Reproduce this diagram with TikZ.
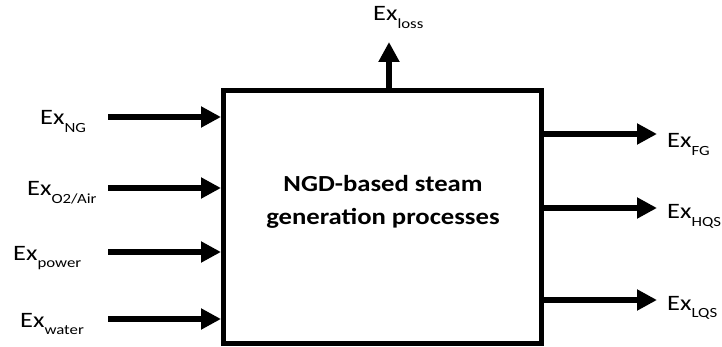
\documentclass[tikz,border=0pt]{standalone}
\usepackage{fontspec}
\setmainfont{Carlito}
\usetikzlibrary{arrows.meta}

\newcommand{\exlabel}[1]{\scalebox{1.2}[1]{Ex\raisebox{-0.36em}{\fontsize{14}{14}\selectfont #1}}}

\tikzset{
  flow/.style={line width=6pt, -{Triangle[length=20pt,width=20pt]}},
  exname/.style={inner sep=0pt, anchor=base west, font=\fontsize{22}{22}\selectfont},
}

\begin{document}
\begin{tikzpicture}[x=1pt, y=-1pt]
    \useasboundingbox (0,0) rectangle (722,347);
    \node[draw, line width=5pt, inner sep=0pt, minimum width=317.5pt, minimum height=252pt] (proc) at (382.25,217) {};
    \node[align=center, font=\fontsize{23}{33}\selectfont\bfseries] (title) at (383,202) {\scalebox{1.16}[1]{NGD-based steam}\\\scalebox{1.16}[1]{generation processes}};

    % inputs
    \coordinate (ng) at (108,117);
    \coordinate (air) at (108,188);
    \coordinate (power) at (108,252);
    \coordinate (water) at (108,319);
    \draw[flow] (ng) -- (ng -| proc.west);
    \draw[flow] (air) -- (air -| proc.west);
    \draw[flow] (power) -- (power -| proc.west);
    \draw[flow] (water) -- (water -| proc.west);
    \node[exname] (ngtxt) at (40,125) {\exlabel{NG}};
    \node[exname] (airtxt) at (27,196) {\exlabel{O2/Air}};
    \node[exname] (powertxt) at (13,260) {\exlabel{power}};
    \node[exname] (watertxt) at (20,327) {\exlabel{water}};

    % outputs
    \coordinate (fg) at (657,134);
    \coordinate (hqs) at (657,208);
    \coordinate (lqs) at (657,300);
    \draw[flow] (fg -| proc.east) -- (fg);
    \draw[flow] (hqs -| proc.east) -- (hqs);
    \draw[flow] (lqs -| proc.east) -- (lqs);
    \node[exname] (fgtxt) at (667,148) {\exlabel{FG}};
    \node[exname] (hqstxt) at (667,219) {\exlabel{HQS}};
    \node[exname] (lqstxt) at (667,310) {\exlabel{LQS}};

    % loss
    \coordinate (loss) at (389,42);
    \draw[flow] (loss |- proc.north) -- (loss);
    \node[exname] (losstxt) at (373,21) {\exlabel{loss}};
\end{tikzpicture}
\end{document}
